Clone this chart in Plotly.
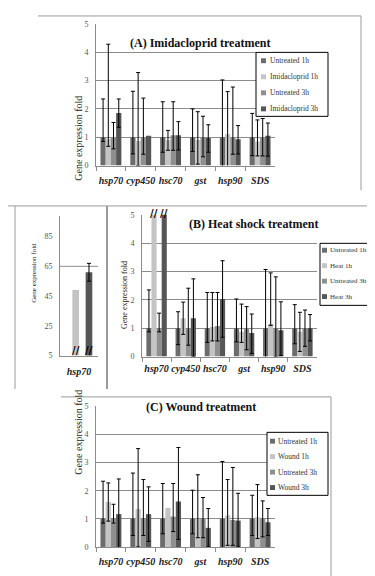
import numpy as np
import plotly.graph_objects as go

W, H = 375, 576
FONT = "Liberation Serif"

genes = ["hsp70", "cyp450", "hsc70", "gst", "hsp90", "SDS"]
inset_genes = ["hsp70"]

# ---------------- (A) Imidacloprid ----------------
imi_names = ["Untreated 1h", "Imidacloprid 1h", "Untreated 3h", "Imidacloprid 3h"]
imi_untreated_1h = [1.0, 1.0, 1.0, 1.0, 1.0, 1.0]
imi_1h = [0.95, 0.87, 0.89, 0.90, 1.10, 0.85]
imi_untreated_3h = [1.0, 1.0, 1.07, 1.0, 0.97, 1.0]
imi_3h = [1.85, 1.05, 1.07, 0.97, 0.93, 1.05]

imi_untreated_1h_up = [1.35, 1.62, 1.25, 1.00, 2.02, 0.84]
imi_untreated_1h_dn = [0.15, 0.59, 0.53, 0.50, 2.02, 0.65]
imi_1h_up = [3.33, 2.41, 0.35, 1.00, 1.51, 0.76]
imi_1h_dn = [0.27, 0.87, 0.35, 0.85, 1.51, 0.51]
imi_untreated_3h_up = [0.52, 1.38, 1.18, 0.74, 1.80, 0.66]
imi_untreated_3h_dn = [0.41, 0.60, 0.53, 0.69, 0.57, 0.66]
imi_3h_up = [0.50, None, 0.48, 0.47, 0.48, 0.45]
imi_3h_dn = [0.50, None, 0.52, 0.50, 0.52, 0.72]

# ---------------- (B) Heat shock ----------------
heat_names = ["Untreated 1h", "Heat 1h", "Untreated 3h", "Heat 3h"]
heat_untreated_1h = [1.0, 1.0, 1.0, 1.0, 1.0, 1.0]
heat_1h = [49.0, 1.35, 1.04, 0.87, 1.15, 0.87]
heat_untreated_3h = [1.0, 1.0, 1.08, 1.0, 0.97, 1.0]
heat_3h = [61.0, 1.35, 2.03, 0.83, 0.93, 1.0]

heat_untreated_1h_up = [1.35, 0.58, 1.26, 1.03, 2.07, 0.83]
heat_untreated_1h_dn = [0.13, 0.58, 0.50, 0.48, 2.07, 0.55]
heat_1h_up = [None, 0.57, 1.22, 0.98, 1.80, 0.69]
heat_1h_dn = [None, 0.57, 0.49, 0.37, 0.05, 0.69]
heat_untreated_3h_up = [0.53, 1.41, 1.18, 0.76, 1.84, 0.64]
heat_untreated_3h_dn = [0.13, 0.60, 0.53, 0.76, 0.97, 0.64]
heat_3h_up = [6.0, 1.39, 1.35, 0.67, 1.00, 0.48]
heat_3h_dn = [6.0, 1.35, 1.35, 0.72, 0.90, 0.45]

# ---------------- (C) Wound ----------------
wound_names = ["Untreated 1h", "Wound 1h", "Untreated 3h", "Wound 3h"]
wound_untreated_1h = [1.0, 1.0, 1.0, 1.0, 1.0, 1.0]
wound_1h = [1.60, 1.35, 1.40, 1.0, 1.12, 1.06]
wound_untreated_3h = [1.0, 1.0, 1.08, 1.0, 0.96, 1.0]
wound_3h = [1.17, 1.17, 1.62, 0.68, 0.94, 0.88]

wound_untreated_1h_up = [1.34, 1.63, 1.26, 1.02, 2.04, 0.84]
wound_untreated_1h_dn = [0.15, 0.59, 0.53, 0.53, 2.04, 0.59]
wound_1h_up = [0.68, 2.15, None, 1.57, 1.28, 1.16]
wound_1h_dn = [0.68, 1.35, None, 0.67, 1.06, 0.76]
wound_untreated_3h_up = [0.52, 1.40, 1.18, 0.76, 1.87, 0.64]
wound_untreated_3h_dn = [0.15, 0.59, 0.53, 0.67, 0.90, 0.64]
wound_3h_up = [1.25, 0.97, 1.92, 0.69, 0.97, 0.49]
wound_3h_dn = [1.25, 0.97, 1.35, 0.68, 0.94, 0.47]

y_ticks_main = [0, 1, 2, 3, 4, 5]
y_ticks_inset = [5, 25, 45, 65, 85]
inset_grid_value = 65

colors = ["#6c6c6c", "#c4c4c4", "#8f8f8f", "#565656"]
BARGAP = 0.3


def arr(v):
    return np.array([np.nan if x is None else x for x in v], dtype=float)


def px_x(x):
    return x / W


def px_y(y):
    return 1 - y / H


fig = go.Figure()


def add_panel(cats, series, ups, dns, names, xa, ya):
    for i, (vals, up, dn, name) in enumerate(zip(series, ups, dns, names)):
        fig.add_trace(go.Bar(
            x=cats, y=vals, name=name, xaxis=xa, yaxis=ya, showlegend=False,
            marker=dict(color=colors[i], line=dict(width=0)),
            error_y=dict(type="data", symmetric=False, array=arr(up), arrayminus=arr(dn),
                         color="black", thickness=1, width=2),
        ))


add_panel(genes, [imi_untreated_1h, imi_1h, imi_untreated_3h, imi_3h],
          [imi_untreated_1h_up, imi_1h_up, imi_untreated_3h_up, imi_3h_up],
          [imi_untreated_1h_dn, imi_1h_dn, imi_untreated_3h_dn, imi_3h_dn],
          imi_names, "x", "y")
add_panel(genes, [heat_untreated_1h, heat_1h, heat_untreated_3h, heat_3h],
          [heat_untreated_1h_up, heat_1h_up, heat_untreated_3h_up, heat_3h_up],
          [heat_untreated_1h_dn, heat_1h_dn, heat_untreated_3h_dn, heat_3h_dn],
          heat_names, "x2", "y2")
# inset: hsp70 only, on a broken axis
add_panel(inset_genes, [heat_untreated_1h[:1], heat_1h[:1], heat_untreated_3h[:1], heat_3h[:1]],
          [heat_untreated_1h_up[:1], heat_1h_up[:1], heat_untreated_3h_up[:1], heat_3h_up[:1]],
          [heat_untreated_1h_dn[:1], heat_1h_dn[:1], heat_untreated_3h_dn[:1], heat_3h_dn[:1]],
          heat_names, "x3", "y3")
add_panel(genes, [wound_untreated_1h, wound_1h, wound_untreated_3h, wound_3h],
          [wound_untreated_1h_up, wound_1h_up, wound_untreated_3h_up, wound_3h_up],
          [wound_untreated_1h_dn, wound_1h_dn, wound_untreated_3h_dn, wound_3h_dn],
          wound_names, "x4", "y4")

GRID = "#8c8c8c"
xlab_font = dict(family=FONT, size=10, color="#222", style="italic", weight="bold")
ylab_font = dict(family=FONT, size=8, color="#555")


def xaxis(dom, anchor, standoff):
    return dict(domain=dom, anchor=anchor, type="category", showline=True, linecolor=GRID,
                ticks="outside", tickson="boundaries", ticklen=4, tickcolor=GRID, tickangle=0,
                ticklabelstandoff=standoff, tickfont=xlab_font, showgrid=False, fixedrange=True)


def yaxis(dom, anchor, rng, tv, grid=True):
    return dict(domain=dom, anchor=anchor, range=rng, tickvals=tv, showgrid=grid, gridcolor=GRID,
                gridwidth=1, showline=True, linecolor=GRID, ticks="", ticklabelstandoff=5,
                tickfont=ylab_font, zeroline=False, fixedrange=True)


# plot area pixel boxes (left, right, top, bottom)
A_box = (88, 267, 12, 156)
B_box = (134, 309, 206, 350)
I_box = (52, 90, 207, 349)
C_box = (88, 267, 400.7, 543.5)


def dom(box):
    x0, x1, y0, y1 = box
    return [px_x(x0), px_x(x1)], [px_y(y1), px_y(y0)]


dA, dB, dI, dC = dom(A_box), dom(B_box), dom(I_box), dom(C_box)

fig.update_layout(
    width=W, height=H, margin=dict(l=0, r=0, t=0, b=0),
    paper_bgcolor="white", plot_bgcolor="white",
    barmode="group", bargap=BARGAP, bargroupgap=0,
    font=dict(family=FONT), showlegend=False,
    xaxis=xaxis(dA[0], "y", 5), yaxis=yaxis(dA[1], "x", [0, 5], y_ticks_main),
    xaxis2=xaxis(dB[0], "y2", 2), yaxis2=yaxis(dB[1], "x2", [0, 5], y_ticks_main),
    xaxis3=dict(xaxis(dI[0], "y3", 6), ticks=""),
    yaxis3=yaxis(dI[1], "x3", [5, 99], y_ticks_inset, grid=False),
    xaxis4=xaxis(dC[0], "y4", 5), yaxis4=yaxis(dC[1], "x4", [0, 5], y_ticks_main),
)

ann = []
FR = "#9a9a9a"
shapes = []


def line(x0, y0, x1, y1, w=1, color=FR):
    return dict(type="line", xref="paper", yref="paper", x0=px_x(x0), y0=px_y(y0),
                x1=px_x(x1), y1=px_y(y1), line=dict(color=color, width=w))


# titles and axis titles
for txt, x, y in [("(A) Imidacloprid treatment", 192, 22),
                  ("(B) Heat shock treatment", 245, 215),
                  ("(C) Wound treatment", 193, 410)]:
    ann.append(dict(text=f"<b>{txt}</b>", x=px_x(x), y=px_y(y), xref="paper", yref="paper",
                    showarrow=False, font=dict(family=FONT, size=12, color="#111"),
                    bgcolor="white"))
for x, y, s in [(63, 83, 10), (110, 288, 8), (20, 265, 7), (63, 472, 10)]:
    ann.append(dict(text="Gene expression fold", x=px_x(x), y=px_y(y), xref="paper", yref="paper",
                    showarrow=False, textangle=-90, font=dict(family=FONT, size=s, color="#222")))


# legends (Excel-style boxed key beside each panel)
def legend_box(names, left, top, right, bottom, first_y, step, sq_x, txt_x, fsize):
    shapes.append(dict(type="rect", xref="paper", yref="paper", x0=px_x(left), x1=px_x(right),
                       y0=px_y(bottom), y1=px_y(top), fillcolor="white",
                       line=dict(color="black", width=1), layer="above"))
    for i, name in enumerate(names):
        yc = first_y + i * step
        shapes.append(dict(type="rect", xref="paper", yref="paper",
                           x0=px_x(sq_x), x1=px_x(sq_x + 5), y0=px_y(yc + 2.5), y1=px_y(yc - 2.5),
                           fillcolor=colors[i], line=dict(width=0), layer="above"))
        ann.append(dict(text=name, x=px_x(txt_x), y=px_y(yc), xref="paper", yref="paper",
                        xanchor="left", yanchor="middle", showarrow=False,
                        font=dict(family=FONT, size=fsize, color="#333")))


legend_box(imi_names, 248, 41, 320, 106, 49.5, 16.3, 253, 260, 7.5)
legend_box(heat_names, 312, 235, 364, 298, 242, 15.7, 314, 320, 7)
legend_box(wound_names, 259, 427, 320, 491, 436, 15.7, 262, 268, 7.5)


# axis break marks on the truncated hsp70 bars
def bar_offset(box, ncat, idx):
    catw = (box[1] - box[0]) / ncat
    barw = catw * (1 - BARGAP) / 4
    return (idx - 1.5) * barw


for idx in (1, 3):
    ann.append(dict(text="<b>//</b>", x=genes[0], y=5, xref="x2", yref="y2", showarrow=False,
                    xshift=bar_offset(B_box, 6, idx), yshift=1,
                    font=dict(family="DejaVu Sans", size=10, color="black")))
    ann.append(dict(text="<b>//</b>", x=inset_genes[0], y=5, xref="x3", yref="y3", showarrow=False,
                    xshift=bar_offset(I_box, 1, idx), yshift=5,
                    font=dict(family="DejaVu Sans", size=10, color="black")))

# chart-area frames and the single inset gridline
shapes += [
    line(30, 4, 353, 4), line(353, 4, 353, 181),
    line(0, 197, 372, 197), line(7, 197, 7, 383), line(99, 197, 99, 383, 2), line(371, 190, 371, 383),
    line(53, 391, 323, 391), line(323, 391, 323, 576),
    dict(type="line", xref="x3 domain", x0=0, x1=1, yref="y3", y0=inset_grid_value, y1=inset_grid_value,
         line=dict(color=GRID, width=1), layer="below"),
]
fig.update_layout(annotations=ann, shapes=shapes)

fig.write_html("out.html")
